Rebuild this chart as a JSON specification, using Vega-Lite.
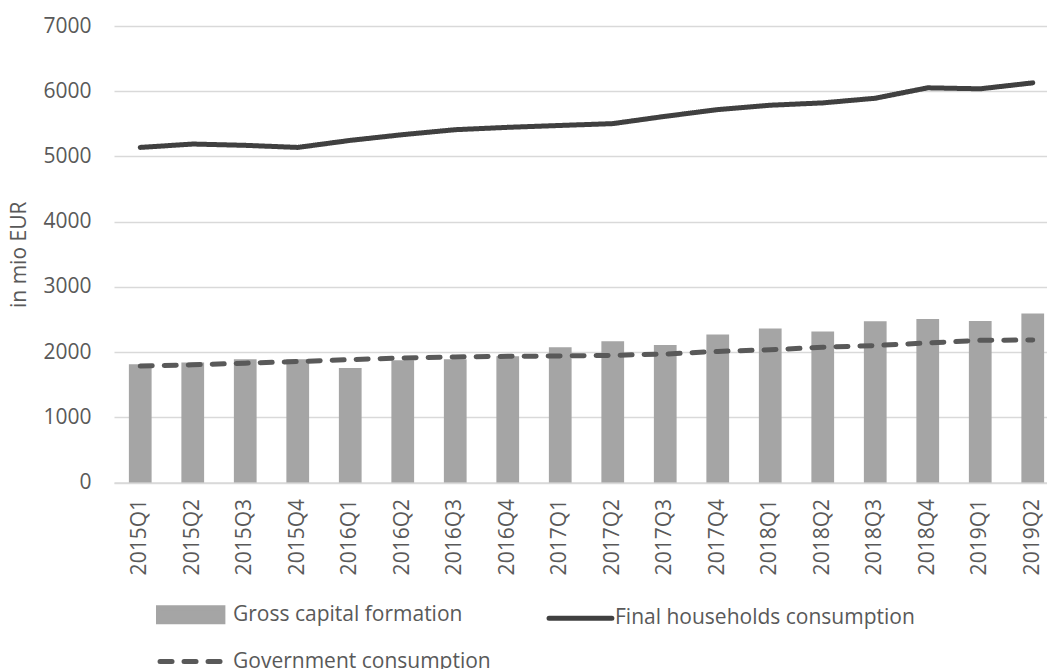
{
  "$schema": "https://vega.github.io/schema/vega-lite/v6.json",
  "width": 945,
  "height": 456.5,
  "autosize": {"type": "none"},
  "padding": {"left": 114, "top": 26, "right": 0, "bottom": 186},
  "background": "white",
  "config": {"view": {"stroke": null}, "font": "Open Sans"},
  "data": {"values": [
    {"q": "2015Q1", "series": "Gross capital formation", "value": 1815},
    {"q": "2015Q2", "series": "Gross capital formation", "value": 1840},
    {"q": "2015Q3", "series": "Gross capital formation", "value": 1890},
    {"q": "2015Q4", "series": "Gross capital formation", "value": 1890},
    {"q": "2016Q1", "series": "Gross capital formation", "value": 1755},
    {"q": "2016Q2", "series": "Gross capital formation", "value": 1875},
    {"q": "2016Q3", "series": "Gross capital formation", "value": 1890},
    {"q": "2016Q4", "series": "Gross capital formation", "value": 1937},
    {"q": "2017Q1", "series": "Gross capital formation", "value": 2075},
    {"q": "2017Q2", "series": "Gross capital formation", "value": 2167},
    {"q": "2017Q3", "series": "Gross capital formation", "value": 2110},
    {"q": "2017Q4", "series": "Gross capital formation", "value": 2270},
    {"q": "2018Q1", "series": "Gross capital formation", "value": 2360},
    {"q": "2018Q2", "series": "Gross capital formation", "value": 2315},
    {"q": "2018Q3", "series": "Gross capital formation", "value": 2473},
    {"q": "2018Q4", "series": "Gross capital formation", "value": 2508},
    {"q": "2019Q1", "series": "Gross capital formation", "value": 2478},
    {"q": "2019Q2", "series": "Gross capital formation", "value": 2590},
    {"q": "2015Q1", "series": "Final households consumption", "value": 5138},
    {"q": "2015Q2", "series": "Final households consumption", "value": 5190},
    {"q": "2015Q3", "series": "Final households consumption", "value": 5170},
    {"q": "2015Q4", "series": "Final households consumption", "value": 5138},
    {"q": "2016Q1", "series": "Final households consumption", "value": 5246},
    {"q": "2016Q2", "series": "Final households consumption", "value": 5334},
    {"q": "2016Q3", "series": "Final households consumption", "value": 5410},
    {"q": "2016Q4", "series": "Final households consumption", "value": 5446},
    {"q": "2017Q1", "series": "Final households consumption", "value": 5475},
    {"q": "2017Q2", "series": "Final households consumption", "value": 5503},
    {"q": "2017Q3", "series": "Final households consumption", "value": 5615},
    {"q": "2017Q4", "series": "Final households consumption", "value": 5718},
    {"q": "2018Q1", "series": "Final households consumption", "value": 5785},
    {"q": "2018Q2", "series": "Final households consumption", "value": 5821},
    {"q": "2018Q3", "series": "Final households consumption", "value": 5892},
    {"q": "2018Q4", "series": "Final households consumption", "value": 6052},
    {"q": "2019Q1", "series": "Final households consumption", "value": 6037},
    {"q": "2019Q2", "series": "Final households consumption", "value": 6128},
    {"q": "2015Q1", "series": "Government consumption", "value": 1785},
    {"q": "2015Q2", "series": "Government consumption", "value": 1805},
    {"q": "2015Q3", "series": "Government consumption", "value": 1830},
    {"q": "2015Q4", "series": "Government consumption", "value": 1855},
    {"q": "2016Q1", "series": "Government consumption", "value": 1885},
    {"q": "2016Q2", "series": "Government consumption", "value": 1910},
    {"q": "2016Q3", "series": "Government consumption", "value": 1925},
    {"q": "2016Q4", "series": "Government consumption", "value": 1935},
    {"q": "2017Q1", "series": "Government consumption", "value": 1940},
    {"q": "2017Q2", "series": "Government consumption", "value": 1950},
    {"q": "2017Q3", "series": "Government consumption", "value": 1970},
    {"q": "2017Q4", "series": "Government consumption", "value": 2010},
    {"q": "2018Q1", "series": "Government consumption", "value": 2035},
    {"q": "2018Q2", "series": "Government consumption", "value": 2075},
    {"q": "2018Q3", "series": "Government consumption", "value": 2100},
    {"q": "2018Q4", "series": "Government consumption", "value": 2140},
    {"q": "2019Q1", "series": "Government consumption", "value": 2180},
    {"q": "2019Q2", "series": "Government consumption", "value": 2185}
  ]},
  "encoding": {
    "x": {
      "field": "q", "type": "nominal", "sort": null, "title": null,
      "scale": {"paddingInner": 0.567, "paddingOuter": 0.2835},
      "axis": {
        "labelAngle": -90, "labelFontSize": 21, "labelColor": "#595959",
        "labelPadding": 16, "ticks": false, "grid": false,
        "domainColor": "#d9d9d9", "domainWidth": 1.5
      }
    },
    "y": {
      "field": "value", "type": "quantitative", "title": "in mio EUR",
      "scale": {"domain": [0, 7000], "nice": false},
      "axis": {
        "values": [0, 1000, 2000, 3000, 4000, 5000, 6000, 7000], "format": "d",
        "labelFontSize": 21, "labelColor": "#595959", "labelPadding": 23,
        "ticks": false, "domain": false, "gridColor": "#d9d9d9", "gridWidth": 1.3,
        "titleFontSize": 21, "titleFontWeight": "normal", "titleColor": "#595959",
        "titlePadding": 13
      }
    },
    "color": {
      "field": "series", "type": "nominal",
      "scale": {
        "domain": ["Gross capital formation", "Final households consumption", "Government consumption"],
        "range": ["#a5a5a5", "#404040", "#595959"]
      },
      "legend": {
        "title": null, "orient": "none", "legendX": 63, "legendY": 572,
        "columns": 2, "direction": "horizontal", "padding": 0,
        "symbolSize": 784, "labelOffset": 23, "columnPadding": 48, "rowPadding": 13,
        "labelFontSize": 21, "labelColor": "#595959", "labelLimit": 400,
        "symbolOpacity": 1,
        "encode": {
          "symbols": {
            "update": {
              "shape": {"signal": "datum.value === 'Gross capital formation' ? 'M-2.5,-0.5H2.1V0.5H-2.5Z' : (datum.value === 'Final households consumption' ? 'M-1.89,0H2.6' : 'M-2.39,0H2.5')"},
              "fill": {"signal": "datum.value === 'Gross capital formation' ? '#a5a5a5' : 'transparent'"},
              "stroke": {"signal": "datum.value === 'Gross capital formation' ? 'transparent' : (datum.value === 'Final households consumption' ? '#404040' : '#595959')"},
              "strokeWidth": {"value": 5},
              "strokeDash": {"signal": "datum.value === 'Government consumption' ? [12, 12] : [1, 0]"},
              "strokeCap": {"value": "round"},
              "opacity": {"value": 1}
            }
          }
        }
      }
    }
  },
  "layer": [
    {
      "transform": [{"filter": "datum.series === 'Gross capital formation'"}],
      "mark": {"type": "bar", "opacity": 1}
    },
    {
      "transform": [{"filter": "datum.series !== 'Gross capital formation'"}],
      "mark": {"type": "line", "strokeWidth": 5, "strokeCap": "round", "strokeJoin": "round"},
      "encoding": {
        "strokeDash": {
          "field": "series", "type": "nominal", "legend": null,
          "scale": {"domain": ["Final households consumption", "Government consumption"], "range": [[1, 0], [12, 12]]}
        }
      }
    }
  ]
}
